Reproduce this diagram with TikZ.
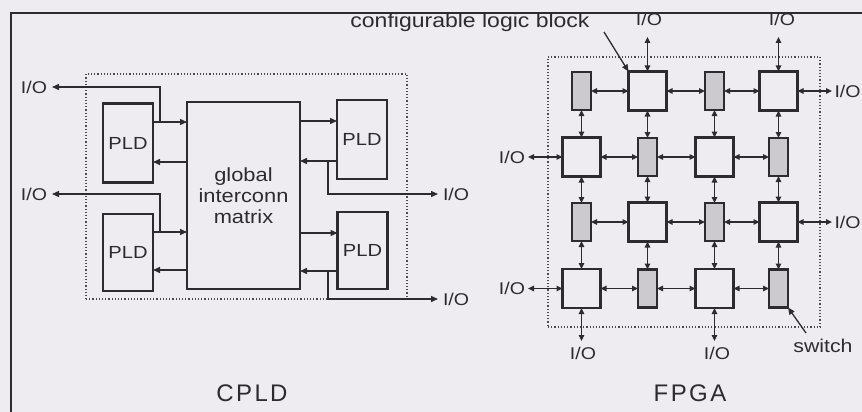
\documentclass[tikz,border=0pt]{standalone}
\usepackage{fontspec}
\setmainfont{Liberation Sans}
\newfontfamily\labfont[FakeStretch=1.15]{Liberation Sans}
\newfontfamily\titfont[LetterSpace=10]{Liberation Sans}
\usetikzlibrary{arrows.meta}
\definecolor{bg}{RGB}{238,236,240}
\definecolor{ink}{RGB}{45,43,48}
\definecolor{swfill}{RGB}{204,202,206}
\begin{document}
\begin{tikzpicture}[x=1pt,y=-1pt,
  every node/.style={inner sep=0pt, outer sep=0pt, text=ink},
  box/.style={draw=ink, line width=2.2pt, fill=bg},
  pld/.style={box, minimum width=50pt, minimum height=79pt, font=\labfont\fontsize{17.5}{20}\selectfont},
  clb/.style={draw=ink, line width=2.1pt, fill=bg, minimum width=38pt, minimum height=39pt},
  sw/.style={draw=ink, line width=2.1pt, fill=swfill, minimum width=19pt, minimum height=38pt},
  lab/.style={font=\labfont\fontsize{17}{20}\selectfont},
  conn/.style={draw=ink, line width=1.4pt, -{Triangle[length=7pt,width=6pt]}},
  dconn/.style={draw=ink, line width=1.4pt, {Triangle[length=6pt,width=5.5pt]}-{Triangle[length=6pt,width=5.5pt]}},
  dotbox/.style={draw=ink!85, line width=1.2pt, dotted},
]
\useasboundingbox (0,0) rectangle (862,412);
\fill[bg] (0,0) rectangle (862,412);
\draw[ink, line width=1.6pt] (11,412) -- (11,13) -- (862,13);

% ---------------- CPLD ----------------
\node[dotbox, minimum width=321pt, minimum height=225pt] (cpldbox) at (246.5,186.5) {};
\node[pld] (plda) at (128,143) {PLD};
\node[pld, minimum height=77pt] (pldb) at (128,252.5) {PLD};
\node[box, minimum width=113pt, minimum height=187pt, align=center,
      font=\labfont\fontsize{19}{21}\selectfont] (mat) at (243.5,195.5) {global\\interconn\\matrix};
\node[pld] (pldc) at (362,139.5) {PLD};
\node[pld, minimum height=77pt] (pldd) at (362.5,250.5) {PLD};

\node[lab, anchor=east] (io1) at (47,87) {I/O};
\node[lab, anchor=east] (io2) at (47,194) {I/O};
\node[lab, anchor=west] (io3) at (443,194) {I/O};
\node[lab, anchor=west] (io4) at (443,299) {I/O};
\coordinate (e1) at (52,87);
\coordinate (e2) at (52,194);
\coordinate (e3) at (438,194);
\coordinate (e4) at (438,299);
\coordinate (j1) at (160,122);
\coordinate (j2) at (160,232);
\coordinate (j3) at (328,161);
\coordinate (j4) at (328,271);

\draw[conn] (plda.east |- j1) -- (mat.west |- j1);
\draw[conn] (j1) -- (j1 |- e1) -- (e1);
\draw[conn] (mat.west |- 0,162) -- (plda.east |- 0,162);
\draw[conn] (pldb.east |- j2) -- (mat.west |- j2);
\draw[conn] (j2) -- (j2 |- e2) -- (e2);
\draw[conn] (mat.west |- 0,270) -- (pldb.east |- 0,270);

\draw[conn] (mat.east |- 0,121) -- (pldc.west |- 0,121);
\draw[conn] (pldc.west |- j3) -- (mat.east |- j3);
\draw[conn] (j3) -- (j3 |- e3) -- (e3);
\draw[conn] (mat.east |- 0,233) -- (pldd.west |- 0,233);
\draw[conn] (pldd.west |- j4) -- (mat.east |- j4);
\draw[conn] (j4) -- (j4 |- e4) -- (e4);

\node[font=\titfont\fontsize{24}{28}\selectfont] (cpldt) at (252,393) {CPLD};

% ---------------- FPGA ----------------
\node[dotbox, minimum width=272pt, minimum height=270pt] (fpgabox) at (684,192) {};

\node[sw]  (a1) at (581.5,91) {};
\node[clb] (b1) at (647.5,91) {};
\node[sw]  (c1) at (714.5,91) {};
\node[clb] (d1) at (778.5,91) {};

\node[clb] (a2) at (581.5,157) {};
\node[sw]  (b2) at (647.5,157) {};
\node[clb] (c2) at (714.5,157) {};
\node[sw]  (d2) at (778.5,157) {};

\node[sw]  (a3) at (581.5,222) {};
\node[clb] (b3) at (647.5,222) {};
\node[sw]  (c3) at (714.5,222) {};
\node[clb] (d3) at (778.5,222) {};

\node[clb] (a4) at (581.5,288.5) {};
\node[sw]  (b4) at (647.5,288.5) {};
\node[clb] (c4) at (714.5,288.5) {};
\node[sw]  (d4) at (778.5,288.5) {};

\foreach \r in {1,2,3,4}{
  \draw[dconn] (a\r) -- (b\r);
  \draw[dconn] (b\r) -- (c\r);
  \draw[dconn] (c\r) -- (d\r);
}
\foreach \c in {a,b,c,d}{
  \draw[dconn] (\c1) -- (\c2);
  \draw[dconn] (\c2) -- (\c3);
  \draw[dconn] (\c3) -- (\c4);
}

% I/O of FPGA
\coordinate (tb) at (647.5,37);
\coordinate (td) at (778.5,37);
\coordinate (rr1) at (832,91);
\coordinate (rr3) at (832,222);
\coordinate (ll2) at (528,157);
\coordinate (ll4) at (528,288.5);
\coordinate (ba) at (581.5,341);
\coordinate (bc) at (714.5,341);
\draw[dconn] (b1) -- (tb);
\draw[dconn] (d1) -- (td);
\draw[dconn] (d1) -- (rr1);
\draw[dconn] (d3) -- (rr3);
\draw[dconn] (a2) -- (ll2);
\draw[dconn] (a4) -- (ll4);
\draw[dconn] (a4) -- (ba);
\draw[dconn] (c4) -- (bc);

\node[lab] (iot1) at (649,19) {I/O};
\node[lab] (iot2) at (782,19) {I/O};
\node[lab, anchor=west] (ior1) at (834.5,91) {I/O};
\node[lab, anchor=west] (ior3) at (834.5,222) {I/O};
\node[lab, anchor=east] (iol2) at (525,157) {I/O};
\node[lab, anchor=east] (iol4) at (525,288.5) {I/O};
\node[lab] (iob1) at (583,353) {I/O};
\node[lab] (iob2) at (717,353) {I/O};

\node[font=\labfont\fontsize{20}{22}\selectfont] (cfg) at (470,22) {configurable logic block};
\coordinate (cfgs) at (604,32);
\draw[line width=1.3pt, draw=ink, -{Triangle[length=7pt,width=6pt]}] (cfgs) -- (b1.north west);

\node[font=\labfont\fontsize{18.5}{20}\selectfont] (swl) at (823,346) {switch};
\coordinate (sws) at (806,333);
\draw[line width=1.3pt, draw=ink, -{Triangle[length=7pt,width=6pt]}] (sws) -- (d4.south east);

\node[font=\titfont\fontsize{24}{28}\selectfont] (fpgat) at (690,393) {FPGA};
\end{tikzpicture}
\end{document}
